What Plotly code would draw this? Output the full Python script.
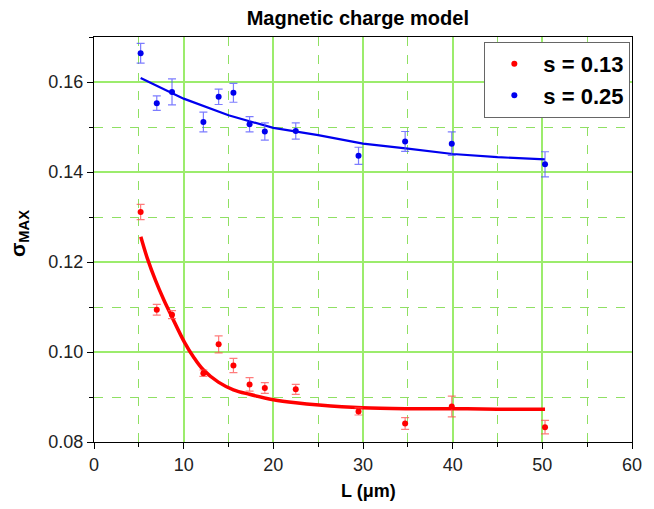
import plotly.graph_objects as go

# Data points: L (µm), sigma_MAX, error
L_pts = [5.2, 7.0, 8.7, 12.2, 13.9, 15.55, 17.35, 19.05, 22.5, 29.5, 34.7, 39.9, 50.3]

sig_013 = [0.1311, 0.1094, 0.1083, 0.0953, 0.1017, 0.0970, 0.0928, 0.0920, 0.0917, 0.0868, 0.0841, 0.0879, 0.0833]
err_013 = [0.0017, 0.0012, 0.0009, 0.0007, 0.0019, 0.0016, 0.0015, 0.0012, 0.0011, 0.0008, 0.0013, 0.0023, 0.0015]

sig_025 = [0.1664, 0.1553, 0.1578, 0.1511, 0.1567, 0.1576, 0.1506, 0.1490, 0.1491, 0.1436, 0.1468, 0.1463, 0.1417]
err_025 = [0.0022, 0.0016, 0.0029, 0.0022, 0.0017, 0.0021, 0.0017, 0.0019, 0.0018, 0.0019, 0.0022, 0.0026, 0.0028]

# Fit curves
fitL_013 = [5.22, 5.95, 6.86, 7.78, 8.69, 10.08, 11.06, 12.16, 13.87, 15.55, 17.34, 20.0, 22.5, 25.1, 29.9, 35.0, 40.0, 45.0, 50.3]
fit_013 = [0.1256, 0.1208, 0.1159, 0.1116, 0.1078, 0.1022, 0.0990, 0.0961, 0.0933, 0.0916, 0.0906, 0.0894, 0.0887, 0.0882, 0.0876, 0.0874, 0.0874, 0.0873, 0.0873]

fitL_025 = [5.2, 10.0, 15.0, 20.0, 25.0, 30.0, 35.0, 40.0, 45.0, 50.3]
fit_025 = [0.1609, 0.1563, 0.1526, 0.1498, 0.1482, 0.1463, 0.1452, 0.1440, 0.1433, 0.1428]

labels = ["s = 0.13", "s = 0.25"]
x_ticks = [0, 10, 20, 30, 40, 50, 60]
y_ticks = [0.08, 0.10, 0.12, 0.14, 0.16]
y_ticktext = ["0.08", "0.10", "0.12", "0.14", "0.16"]

FONT = "Liberation Sans, Arial, sans-serif"

fig = go.Figure()

fig.add_trace(go.Scatter(x=fitL_013, y=fit_013, mode="lines", line_shape="spline",
                         line=dict(color="#ff0000", width=3.5), showlegend=False, hoverinfo="skip"))
fig.add_trace(go.Scatter(x=fitL_025, y=fit_025, mode="lines",
                         line=dict(color="#0000ee", width=2.2), showlegend=False, hoverinfo="skip"))

fig.add_trace(go.Scatter(x=L_pts, y=sig_013, mode="markers",
                         name="<b>" + labels[0] + "</b>",
                         marker=dict(color="#ff0000", size=6),
                         error_y=dict(type="data", array=err_013, color="rgba(255,80,80,0.75)",
                                      thickness=1.2, width=4)))
fig.add_trace(go.Scatter(x=L_pts, y=sig_025, mode="markers",
                         name="<b>" + labels[1] + "</b>",
                         marker=dict(color="#0000ee", size=6),
                         error_y=dict(type="data", array=err_025, color="rgba(80,80,255,0.75)",
                                      thickness=1.2, width=4)))

grid_major = "#9cec6c"
grid_minor = "#8fe063"

fig.update_layout(
    width=654, height=509,
    margin=dict(l=94, r=12, t=37, b=67),
    paper_bgcolor="white", plot_bgcolor="white",
    font=dict(family=FONT, color="black", size=18),
    title=dict(text="<b>Magnetic charge model</b>", x=357.8 / 654, xanchor="center",
               y=1 - 18 / 509, yanchor="middle", font=dict(size=20, color="black")),
    showlegend=True,
    legend=dict(x=0.9969, xanchor="right", y=0.988, yanchor="top",
                bordercolor="#666666", borderwidth=1, bgcolor="white",
                font=dict(size=22, family=FONT, color="black"),
                itemwidth=48, tracegroupgap=0),
    xaxis=dict(range=[0, 60], tickvals=x_ticks,
               showline=True, linecolor="black", linewidth=1.3, mirror=True,
               ticks="outside", ticklen=6, tickcolor="black",
               tickfont=dict(size=18, color="#222222"),
               showgrid=True, gridcolor=grid_major, gridwidth=1.5,
               zeroline=False,
               minor=dict(dtick=5, ticks="outside", ticklen=4, tickcolor="black",
                          showgrid=True, gridcolor=grid_minor, griddash="dash", gridwidth=1.2)),
    yaxis=dict(range=[0.08, 0.17], tickvals=y_ticks, ticktext=y_ticktext,
               showline=True, linecolor="black", linewidth=1.3, mirror=True,
               ticks="outside", ticklen=6, tickcolor="black",
               tickfont=dict(size=18, color="#222222"),
               showgrid=True, gridcolor=grid_major, gridwidth=1.5,
               zeroline=False,
               minor=dict(dtick=0.01, tick0=0.08, ticks="outside", ticklen=4, tickcolor="black",
                          showgrid=True, gridcolor=grid_minor, griddash="dash", gridwidth=1.2)),
    annotations=[
        dict(text="<b>L (μm)</b>", xref="paper", yref="paper",
             x=(373.5 - 94) / 547.7, y=(441.7 - 491) / 404.7,
             xanchor="center", yanchor="middle", showarrow=False,
             font=dict(size=18, color="black", family=FONT)),
        dict(text="<b>σ<sub>MAX</sub></b>", xref="paper", yref="paper",
             x=(17.5 - 94) / 547.7, y=(441.7 - 233) / 404.7, textangle=-90,
             xanchor="center", yanchor="middle", showarrow=False,
             font=dict(size=21, color="black", family=FONT)),
    ],
)

fig.write_html("out.html")
